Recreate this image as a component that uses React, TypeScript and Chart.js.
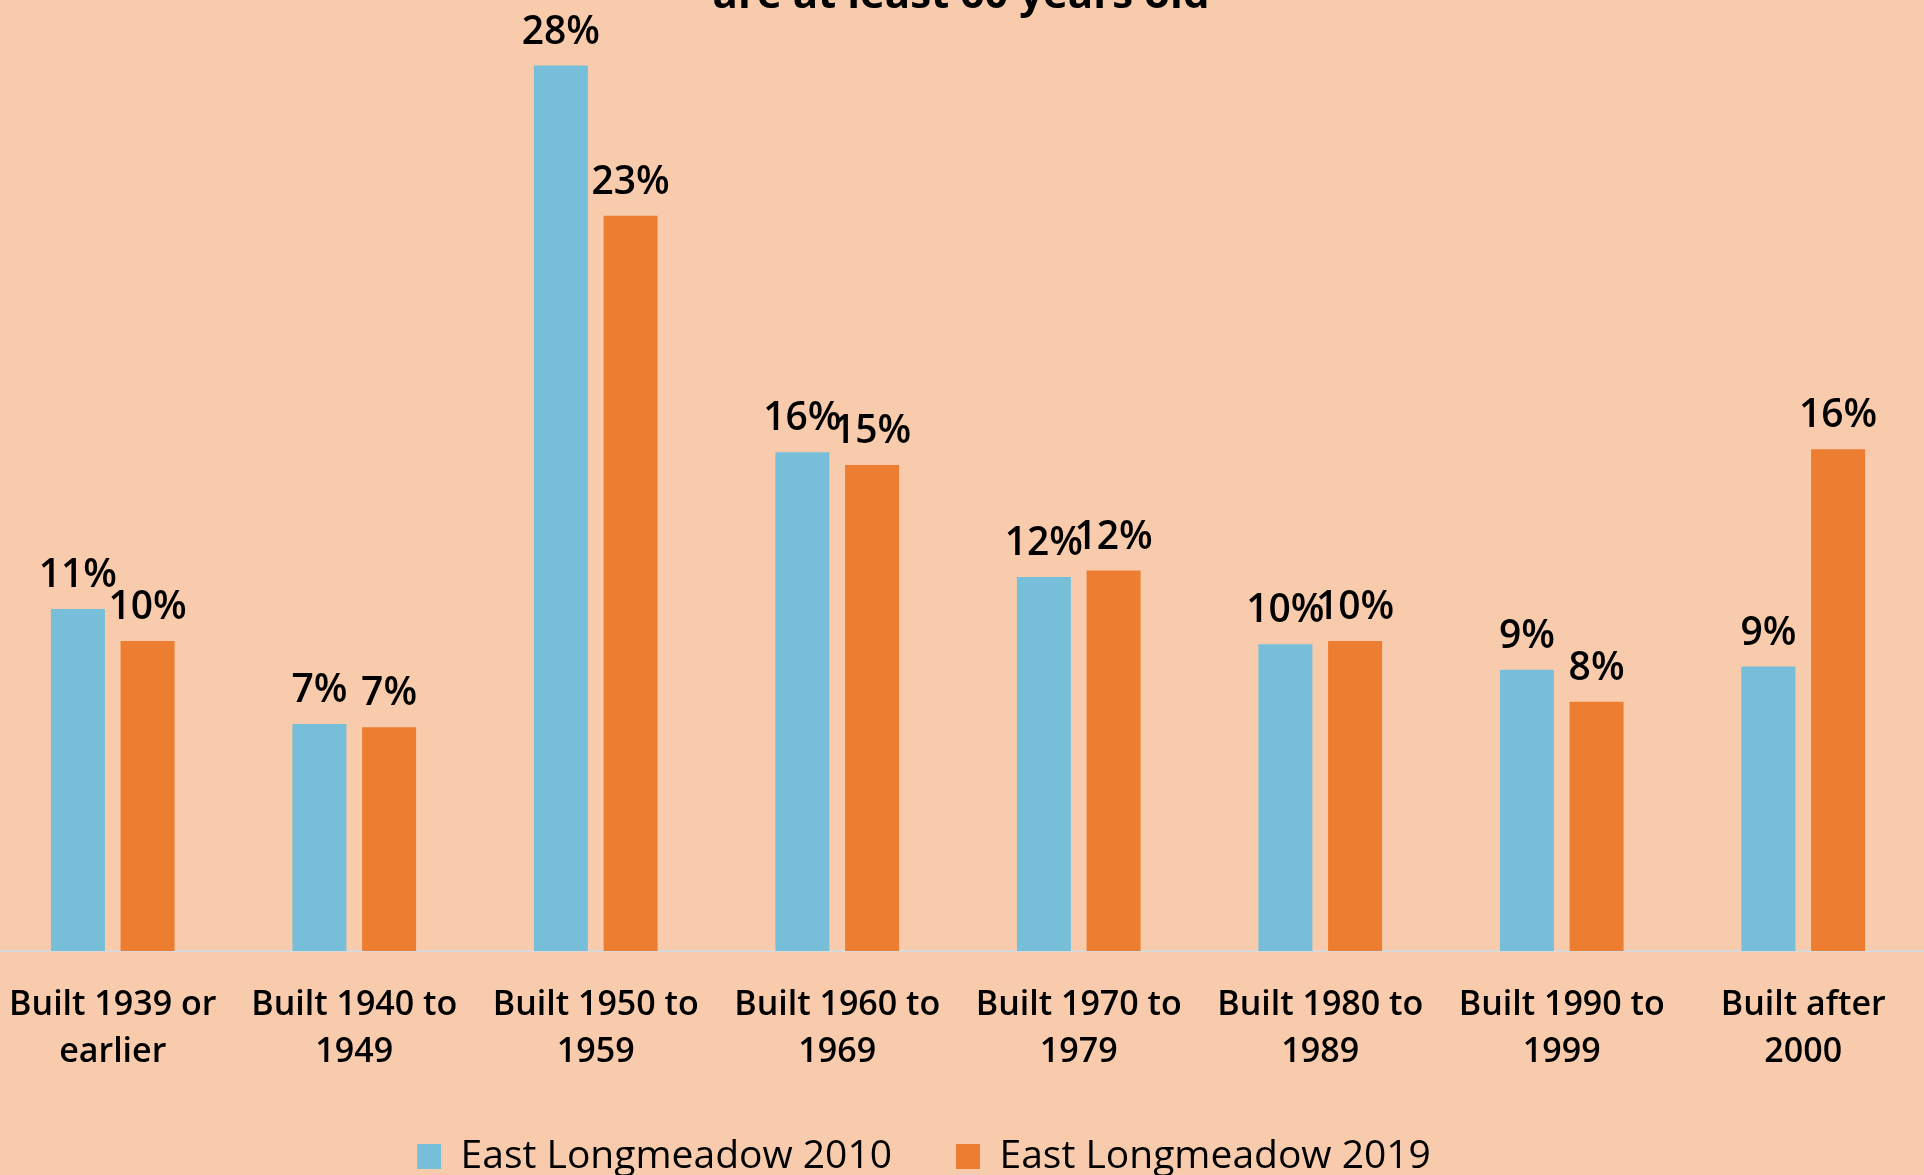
import React, { useEffect, useRef } from "react";
import { Chart, registerables } from "chart.js";

Chart.register(...registerables);

// ---- data ----
const TITLE_TAIL = "are at least 60 years old";
const CATEGORIES: string[][] = [
  ["Built 1939 or", "earlier"],
  ["Built 1940 to", "1949"],
  ["Built 1950 to", "1959"],
  ["Built 1960 to", "1969"],
  ["Built 1970 to", "1979"],
  ["Built 1980 to", "1989"],
  ["Built 1990 to", "1999"],
  ["Built after", "2000"],
];
const SERIES_NAMES = ["East Longmeadow 2010", "East Longmeadow 2019"];
const SERIES_2010 = [10.7, 7.1, 27.7, 15.6, 11.7, 9.6, 8.8, 8.9];
const SERIES_2019 = [9.7, 7.0, 23.0, 15.2, 11.9, 9.7, 7.8, 15.7];
const SERIES_COLORS = ["#77BFD8", "#ED7D31"];
const Y_MAX = 29;

const BG = "#F8CBAD";
const FONT = "'Open Sans', 'Noto Sans', sans-serif";

const dataLabelPlugin = {
  id: "dataLabels",
  afterDatasetsDraw(chart: any) {
    const ctx = chart.ctx;
    ctx.save();
    ctx.font = `600 39px ${FONT}`;
    ctx.fillStyle = "#000";
    ctx.textAlign = "center";
    ctx.textBaseline = "alphabetic";
    chart.data.datasets.forEach((ds: any, i: number) => {
      const meta = chart.getDatasetMeta(i);
      meta.data.forEach((bar: any, j: number) => {
        const v = ds.data[j] as number;
        ctx.fillText(Math.round(v) + "%", bar.x, bar.y - 22);
      });
    });
    ctx.restore();
  },
};

const titlePlugin = {
  id: "clippedTitle",
  afterDraw(chart: any) {
    const ctx = chart.ctx;
    const ca = chart.chartArea;
    ctx.save();
    ctx.font = `700 42px ${FONT}`;
    ctx.fillStyle = "#000";
    ctx.textAlign = "center";
    ctx.textBaseline = "alphabetic";
    ctx.fillText(TITLE_TAIL, (ca.left + ca.right) / 2 + 3, 8);
    ctx.restore();
  },
};

export default function App() {
  const ref = useRef<HTMLCanvasElement | null>(null);

  useEffect(() => {
    if (!ref.current) return;
    const chart = new Chart(ref.current, {
      type: "bar",
      data: {
        labels: CATEGORIES,
        datasets: [
          {
            label: SERIES_NAMES[0],
            data: SERIES_2010,
            backgroundColor: SERIES_COLORS[0],
            borderWidth: 0,
            categoryPercentage: 0.577,
            barPercentage: 0.775,
          },
          {
            label: SERIES_NAMES[1],
            data: SERIES_2019,
            backgroundColor: SERIES_COLORS[1],
            borderWidth: 0,
            categoryPercentage: 0.577,
            barPercentage: 0.775,
          },
        ],
      },
      options: {
        responsive: false,
        animation: false,
        devicePixelRatio: 1,
        layout: { padding: { top: 24, bottom: -11, left: 0, right: 0 } },
        plugins: {
          legend: {
            position: "bottom",
            labels: {
              boxWidth: 24,
              boxHeight: 25,
              padding: 64,
              color: "#000",
              font: { family: FONT, size: 39, weight: "500" },
            },
          },
          title: { display: false },
          tooltip: { enabled: false },
        },
        scales: {
          x: {
            grid: { display: false, drawTicks: false },
            border: { display: true, color: "#D9D9D9", width: 2 },
            ticks: {
              color: "#000",
              padding: 31,
              maxRotation: 0,
              autoSkip: false,
              font: { family: FONT, size: 34, weight: "600", lineHeight: 1.382 },
            },
            afterFit: (s: any) => {
              s.height = 122;
            },
          },
          y: {
            display: true,
            min: 0,
            max: Y_MAX,
            grid: { display: false, drawTicks: false },
            border: { display: false },
            ticks: { display: false },
            afterFit: (s: any) => {
              s.width = 68;
            },
          },
        },
      },
      plugins: [dataLabelPlugin, titlePlugin],
    });
    return () => chart.destroy();
  }, []);

  return (
    <div
      style={{
        position: "fixed",
        left: 0,
        top: 0,
        width: 1924,
        height: 1175,
        overflow: "hidden",
        background: BG,
      }}
    >
      <div style={{ position: "absolute", left: -76, top: 0, width: 2000, height: 1175 }}>
        <canvas ref={ref} width={2000} height={1175} style={{ display: "block" }} />
      </div>
    </div>
  );
}
